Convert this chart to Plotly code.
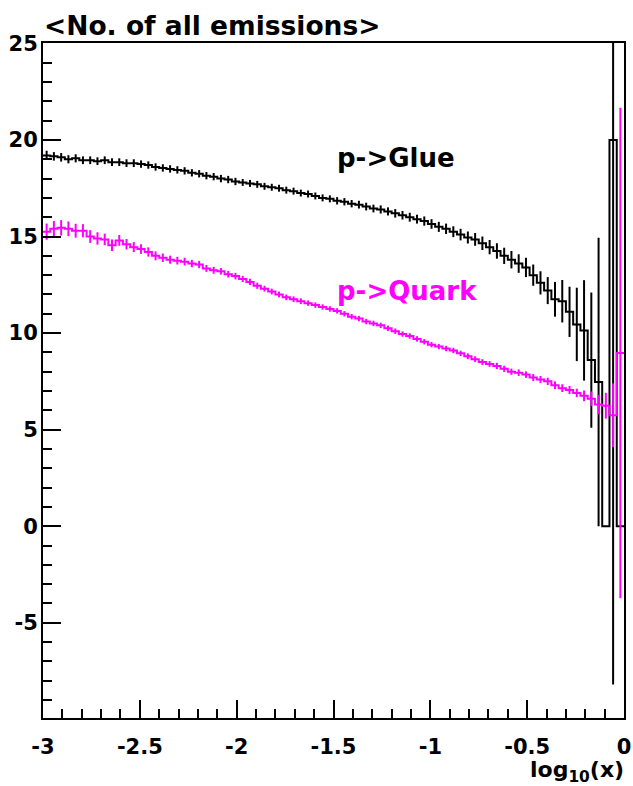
import numpy as np
import plotly.graph_objects as go

# ---------------- data ----------------
x_min, x_max = -3.0, 0.0

glue_vals = [
    19.2, 19.15, 19.1, 19.0, 19.05, 18.95, 18.95, 18.9, 18.95, 18.85,
    18.85, 18.8, 18.8, 18.75, 18.7, 18.6, 18.55, 18.5, 18.45, 18.4,
    18.3, 18.25, 18.15, 18.1, 18.0, 17.95, 17.85, 17.8, 17.75, 17.7,
    17.6, 17.55, 17.5, 17.4, 17.35, 17.25, 17.2, 17.1, 17.0, 16.95,
    16.85, 16.8, 16.7, 16.65, 16.55, 16.45, 16.4, 16.3, 16.2, 16.1,
    16.0, 15.9, 15.8, 15.65, 15.5, 15.4, 15.25, 15.1, 14.95, 14.85,
    14.65, 14.45, 14.25, 14.0, 13.8, 13.6, 13.4, 13.0, 12.6, 12.2,
    11.75, 11.65, 11.1, 10.45, 10.14, 8.6, 7.47, 0.0, 20.0, 0.0,
]
glue_errs = [
    0.24, 0.22, 0.22, 0.21, 0.21, 0.2, 0.2, 0.2, 0.2, 0.2,
    0.2, 0.2, 0.2, 0.19, 0.19, 0.19, 0.19, 0.19, 0.19, 0.19,
    0.19, 0.19, 0.19, 0.19, 0.19, 0.19, 0.19, 0.18, 0.18, 0.18,
    0.18, 0.18, 0.18, 0.18, 0.18, 0.18, 0.18, 0.18, 0.18, 0.18,
    0.19, 0.19, 0.19, 0.2, 0.2, 0.2, 0.21, 0.21, 0.22, 0.22,
    0.23, 0.23, 0.24, 0.25, 0.26, 0.27, 0.28, 0.3, 0.31, 0.33,
    0.35, 0.37, 0.4, 0.42, 0.45, 0.48, 0.5, 0.55, 0.6, 0.7,
    0.9, 1.1, 1.3, 1.9, 2.6, 3.5, 7.47, 0.0, 28.2, 0.0,
]
quark_vals = [
    15.25, 15.4, 15.45, 15.4, 15.3, 15.3, 15.0, 14.9, 14.85, 14.55,
    14.8, 14.6, 14.45, 14.35, 14.2, 14.0, 13.9, 13.8, 13.75, 13.7,
    13.6, 13.55, 13.35, 13.25, 13.2, 13.05, 12.95, 12.8, 12.65, 12.45,
    12.3, 12.15, 12.0, 11.85, 11.75, 11.65, 11.55, 11.45, 11.35, 11.25,
    11.15, 11.0, 10.85, 10.75, 10.6, 10.5, 10.4, 10.25, 10.1, 9.95,
    9.85, 9.7, 9.55, 9.4, 9.3, 9.2, 9.1, 8.95, 8.8, 8.65,
    8.5, 8.4, 8.3, 8.15, 8.0, 7.95, 7.85, 7.7, 7.6, 7.5,
    7.3, 7.15, 7.05, 6.9, 6.75, 6.6, 6.3, 6.24, 5.74, 8.97,
]
quark_errs = [
    0.42, 0.4, 0.4, 0.38, 0.36, 0.34, 0.33, 0.32, 0.3, 0.3,
    0.28, 0.27, 0.26, 0.25, 0.24, 0.23, 0.22, 0.21, 0.2, 0.2,
    0.19, 0.19, 0.18, 0.18, 0.17, 0.17, 0.17, 0.16, 0.16, 0.16,
    0.15, 0.15, 0.15, 0.15, 0.15, 0.15, 0.14, 0.14, 0.14, 0.14,
    0.14, 0.14, 0.14, 0.14, 0.14, 0.14, 0.14, 0.14, 0.14, 0.14,
    0.14, 0.14, 0.14, 0.14, 0.14, 0.14, 0.14, 0.14, 0.15, 0.15,
    0.15, 0.15, 0.16, 0.16, 0.16, 0.17, 0.17, 0.18, 0.18, 0.19,
    0.2, 0.2, 0.21, 0.22, 0.28, 0.38, 0.5, 0.67, 1.65, 12.7,
]

x_tickvals = [-3, -2.5, -2, -1.5, -1, -0.5, 0]
x_ticktext = ["-3", "-2.5", "-2", "-1.5", "-1", "-0.5", "0"]
y_tickvals = [-5, 0, 5, 10, 15, 20, 25]
y_ticktext = ["-5", "0", "5", "10", "15", "20", "25"]

title_text = "&lt;No. of all emissions&gt;"
glue_label = "p-&gt;Glue"
quark_label = "p-&gt;Quark"
x_title = "log<sub>10</sub>(x)"

# ---------------- figure ----------------
FONT = "DejaVu Sans"
MAGENTA = "#ff00ff"

fig = go.Figure()


def add_hist(vals, errs, color):
    n = len(vals)
    edges = np.linspace(x_min, x_max, n + 1)
    centers = 0.5 * (edges[:-1] + edges[1:])
    step_x = list(edges)
    step_y = list(vals) + [vals[-1]]
    fig.add_trace(go.Scatter(
        x=step_x, y=step_y, mode="lines", line_shape="hv",
        line=dict(color=color, width=2), hoverinfo="skip", showlegend=False))
    fig.add_trace(go.Scatter(
        x=centers, y=vals, mode="markers",
        marker=dict(size=0.1, color=color, opacity=0),
        error_y=dict(type="data", array=errs, visible=True,
                     color=color, thickness=2, width=0),
        hoverinfo="skip", showlegend=False))


add_hist(glue_vals, glue_errs, "black")
add_hist(quark_vals, quark_errs, MAGENTA)

axis_common = dict(
    showline=True, linecolor="black", linewidth=2, mirror=True,
    ticks="inside", tickcolor="black", tickwidth=2, ticklen=18,
    showgrid=False, zeroline=False,
    tickfont=dict(family=FONT, size=21, color="black", weight="bold"),
)

fig.update_xaxes(
    range=[x_min, x_max], tickvals=x_tickvals, ticktext=x_ticktext,
    minor=dict(dtick=0.1, tick0=-3, ticks="inside", ticklen=9,
               tickwidth=1.5, tickcolor="black", showgrid=False),
    ticklabelstandoff=9, **axis_common)
fig.update_yaxes(
    range=[-9.93, 25.02], tickvals=y_tickvals, ticktext=y_ticktext,
    minor=dict(dtick=1, tick0=0, ticks="inside", ticklen=9,
               tickwidth=1.5, tickcolor="black", showgrid=False),
    ticklabelstandoff=-1, **axis_common)

fig.add_annotation(
    text=title_text, xref="paper", yref="paper", x=0, y=1,
    xanchor="left", yanchor="bottom", yshift=0, xshift=-1,
    showarrow=False,
    font=dict(family=FONT, size=26.5, color="black", weight="bold"))
fig.add_annotation(
    text=glue_label, xref="x", yref="y", x=-1.49, y=19.05,
    xanchor="left", yanchor="middle", showarrow=False,
    font=dict(family=FONT, size=26, color="black", weight="bold"))
fig.add_annotation(
    text=quark_label, xref="x", yref="y", x=-1.49, y=12.2,
    xanchor="left", yanchor="middle", showarrow=False,
    font=dict(family=FONT, size=26, color=MAGENTA, weight="bold"))
fig.add_annotation(
    text=x_title, xref="paper", yref="paper", x=1, y=0,
    xanchor="right", yanchor="top", yshift=-37, xshift=2,
    showarrow=False,
    font=dict(family=FONT, size=22, color="black", weight="bold"))

fig.update_layout(
    width=633, height=786,
    margin=dict(l=43, r=9, t=43, b=68, autoexpand=False),
    paper_bgcolor="white", plot_bgcolor="white",
    showlegend=False,
)

fig.write_html("out.html")
